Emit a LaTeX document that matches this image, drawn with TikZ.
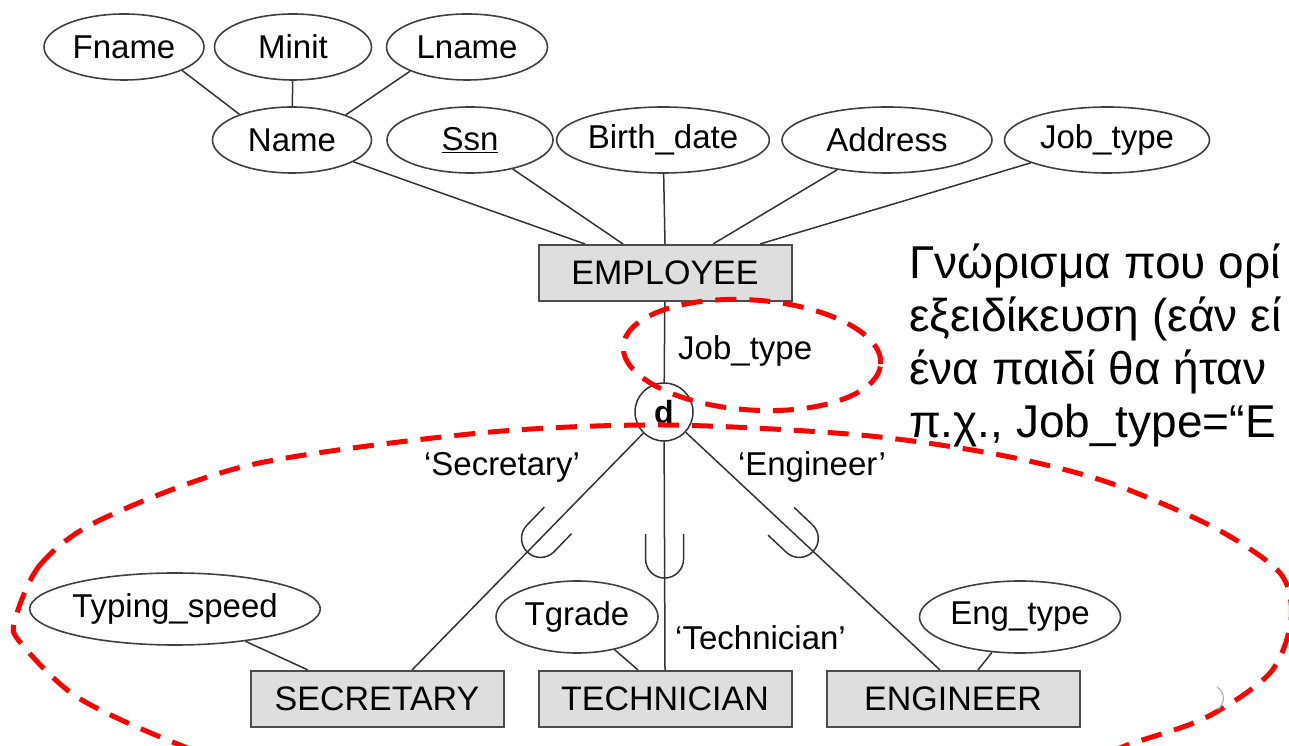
\documentclass[tikz,border=0pt]{standalone}
\usepackage{fontspec}
\setmainfont{Liberation Sans}
\usetikzlibrary{shapes.geometric,calc}

\tikzset{
  attr/.style={draw=black!75,ellipse,line width=1.6pt,inner sep=0pt,minimum height=66pt,font=\fontsize{33}{38}\selectfont},
  ent/.style={draw=black!70,fill=black!13,line width=2pt,inner sep=0pt,minimum width=253pt,minimum height=56pt,font=\fontsize{34}{40}\selectfont},
  lbl/.style={inner sep=0pt,font=\fontsize{33}{38}\selectfont},
  greek/.style={inner sep=0pt,font=\fontsize{46}{53}\selectfont},
  conn/.style={draw=black!80,line width=1.5pt},
  hilite/.style={draw=red,line width=5pt,dash pattern=on 21pt off 13pt},
  subsetcup/.pic={\draw[conn] (-19,25) -- (-19,0) arc[start angle=180,end angle=360,radius=19pt] -- (19,25);}
}

\begin{document}
\begin{tikzpicture}[x=1pt,y=1pt]
  \useasboundingbox (0,0) rectangle (1289,746);

  \node[attr,minimum width=160pt] (att-fname) at (124,699) {Fname};
  \node[attr,minimum width=157pt] (att-minit) at (293,699) {Minit};
  \node[attr,minimum width=161pt] (att-lname) at (467,699) {Lname};
  \node[attr,minimum width=159pt] (att-name) at (292,606) {Name};
  \node[attr,minimum width=166pt] (att-ssn) at (470,606) {\underline{Ssn}};
  \node[attr,minimum width=204pt] (att-birth) at (663,606) {Birth\_date};
  \node[attr,minimum width=210pt] (att-addr) at (887,606) {Address};
  \node[attr,minimum width=205pt] (att-job) at (1107,606) {Job\_type};

  \node[ent] (ent-emp) at (665,473) {EMPLOYEE};
  \node[draw=black!80,circle,line width=1.5pt,fill=white,minimum size=58pt,inner sep=0pt,font=\fontsize{32}{38}\selectfont\bfseries] (d-circ) at (664,334) {d};

  \node[ent] (ent-sec) at (377,47) {SECRETARY};
  \node[ent] (ent-tech) at (665,47) {TECHNICIAN};
  \node[ent] (ent-eng) at (953,47) {ENGINEER};

  \node[attr,minimum width=260pt,minimum height=72pt] (att-typing) at (175,137) {Typing\_speed};
  \node[attr,minimum width=162pt,minimum height=72pt] (att-tgrade) at (577,129) {Tgrade};
  \node[attr,minimum width=201pt,minimum height=72pt] (att-engtype) at (1020,129) {Eng\_type};

  \draw[conn] (att-fname.-22) -- (att-name.154);
  \draw[conn] (att-minit) -- (att-name);
  \draw[conn] (att-lname.-157) -- (att-name.25);
  \draw[conn] (att-name) -- ([xshift=-80pt]ent-emp.north);
  \draw[conn] (att-ssn) -- ([xshift=-42pt]ent-emp.north);
  \draw[conn] (att-birth) -- (ent-emp.north);
  \draw[conn] (att-addr) -- ([xshift=48pt]ent-emp.north);
  \draw[conn] (att-job) -- ([xshift=95pt]ent-emp.north);

  \draw[conn] (ent-emp) -- (d-circ);
  \coordinate (sec-in) at ([xshift=35pt]ent-sec.north);
  \coordinate (eng-in) at ([xshift=-13pt]ent-eng.north);
  \draw[conn] (d-circ) -- (sec-in);
  \draw[conn] (d-circ) -- (ent-tech.north);
  \draw[conn] (d-circ) -- (eng-in);
  \pic[rotate=-44] at ($(d-circ.center)!0.49!(sec-in)$) {subsetcup};
  \pic at ($(d-circ.center)!0.57!(ent-tech.north)$) {subsetcup};
  \pic[rotate=46.7] at ($(d-circ.center)!0.49!(eng-in)$) {subsetcup};

  \draw[conn] (att-typing) -- ([xshift=-69pt]ent-sec.north);
  \draw[conn] (att-tgrade) -- ([xshift=-27pt]ent-tech.north);
  \draw[conn] (att-engtype) -- ([xshift=25pt]ent-eng.north);

  \node[lbl,anchor=base west] (lbl-job) at (678,386) {Job\_type};
  \node[lbl] (lbl-sec) at (502,279) {‘Secretary’};
  \node[lbl] (lbl-eng) at (812,279) {‘Engineer’};
  \node[lbl,anchor=base west] (lbl-tech) at (675,96) {‘Technician’};

  \foreach \txt [count=\i] in {Γνώρισμα που ορί, εξειδίκευση (εάν εί, ένα παιδί θα ήταν, {π.χ., Job\_type=“E}}
    \node[greek,anchor=base west] (note-\i) at (909,{520-53*\i}) {\txt};

  \draw[hilite,rotate around={-4:(752,391)}] (752,391) ellipse[x radius=129pt,y radius=55pt];
  \draw[hilite] plot[smooth cycle] coordinates {(15,126) (40,181) (100,226) (250,281) (480,313) (664,321) (860,311) (1000,291) (1107,264) (1213,219) (1280,173) (1291,126) (1270,73) (1207,29) (1133,3) (1000,-39) (650,-59) (300,-39) (180,1) (77,49) (20,104)};
  \draw[black!30,line width=1.2pt] (1217,59) arc[start angle=60,end angle=-60,radius=13pt];
\end{tikzpicture}
\end{document}
